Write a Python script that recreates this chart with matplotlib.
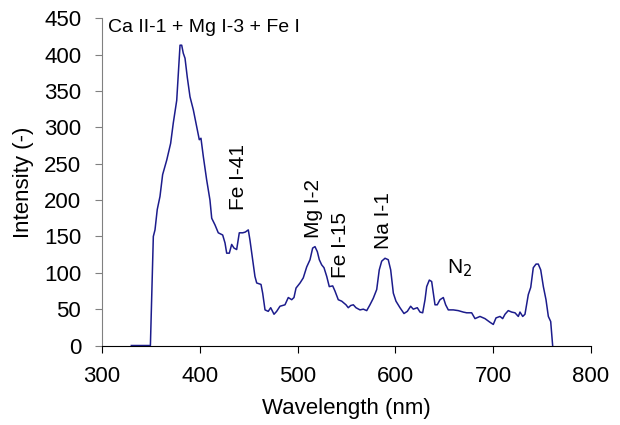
import matplotlib.pyplot as plt
import numpy as np

# spectrum
wavelength = [330, 349.5, 350.8, 352.5, 354.2, 356.5, 359.3, 362, 366.2, 370.2, 372.9, 376.4, 378.4, 379.8,
              381.5, 383.1, 384.9, 387.2, 390, 393.4, 396.8, 399.5, 401.2, 403.6, 407, 410.4, 412.2, 415.5,
              418.9, 423.4, 425.8, 427.5, 430.2, 432.6, 435, 437.7, 440.4, 443.9, 446.5, 449.6, 451.3, 454.1,
              456.4, 458.2, 462.6, 464.3, 466.7, 470, 472.5, 475.9, 478.6, 482, 487.1, 490.5, 494, 496.3,
              498.4, 502.5, 505.8, 509.3, 512.7, 515.4, 517.8, 520.2, 522.2, 524.6, 527, 529.8, 532.4, 535.9,
              538.2, 541.6, 545.1, 549.5, 551.8, 554.3, 557, 559.7, 563.8, 567.2, 570.7, 574, 577.4, 580.9,
              583.5, 586, 589.4, 592.7, 595.2, 597.9, 600.6, 604.7, 608.8, 612.2, 615.6, 618.3, 622.4, 625.2,
              627.9, 630.3, 632, 634.7, 637.1, 638.8, 640.5, 642.8, 645.6, 649, 651.4, 654.1, 659.2, 664.3,
              669.4, 672.9, 678, 681.4, 686.5, 691.6, 696.7, 700.1, 702.9, 707, 709.7, 712.1, 715.4, 718.9,
              722.3, 725.7, 727.4, 730.2, 732.5, 735.9, 738.4, 741, 743.8, 746.1, 748.6, 751.3, 754, 756.4,
              758.8, 760.8]
intensity = [0, 0, 63, 150, 159, 187, 205, 235, 255, 278, 306, 337, 383, 413,
             413, 402, 395, 369, 342, 324, 301, 283, 285, 260, 228, 200, 175, 166,
             155, 152, 141, 127, 127, 139, 134, 132, 155, 155, 156, 159, 145, 118,
             95, 86, 84, 72, 49, 47, 52, 43, 47, 54, 56, 66, 63, 66,
             79, 86, 93, 108, 118, 134, 136, 129, 118, 111, 107, 95, 81, 82,
             75, 63, 61, 56, 52, 55, 56, 52, 49, 50, 48, 56, 65, 77,
             104, 116, 120, 118, 104, 72, 61, 52, 44, 47, 54, 50, 52, 46,
             45, 63, 81, 90, 88, 72, 56, 56, 63, 66, 56, 49, 49, 48,
             46, 45, 45, 37, 40, 37, 32, 29, 38, 40, 37, 43, 48, 46,
             45, 40, 46, 40, 43, 70, 80, 107, 112, 112, 104, 81, 63, 40,
             33, 0]

# emission line labels (rotated)
labels = ['Fe I-41', 'Mg I-2', 'Fe I-15', 'Na I-1']
label_x = [439.5, 516, 544, 588]
label_y = [232, 188, 138, 172]

plt.rcParams['font.family'] = ['Liberation Sans', 'DejaVu Sans']
plt.rcParams['font.size'] = 16

fig = plt.figure(figsize=(6.2, 4.25), dpi=100)
ax = fig.add_axes([0.1645, 0.187, 0.7887, 0.77])

ax.plot(wavelength, intensity, color='#1c1c8c', lw=1.1)

for t, x, y in zip(labels, label_x, label_y):
  ax.text(x, y, t, rotation=90, ha='center', va='center', fontsize=15)
ax.text(652.5, 99, 'N$_2$', ha='left', va='baseline', fontsize=15)
ax.text(306.5, 431, 'Ca II-1 + Mg I-3 + Fe I', ha='left', va='baseline', fontsize=14)

ax.set_xlim(300, 800)
ax.set_ylim(0, 450)
ax.set_xticks(np.arange(300, 801, 100))
ax.set_yticks(np.arange(0, 451, 50))
ax.set_xlabel('Wavelength (nm)', labelpad=8)
ax.set_ylabel('Intensity (-)', labelpad=7)

ax.spines['top'].set_visible(False)
ax.spines['right'].set_visible(False)
ax.spines['left'].set_color('#808080')
ax.spines['bottom'].set_color('black')
ax.tick_params(axis='y', direction='out', length=5, color='#808080', pad=10)
ax.tick_params(axis='x', direction='out', length=5, color='black', pad=10)

fig.savefig('out.png', dpi=100)
